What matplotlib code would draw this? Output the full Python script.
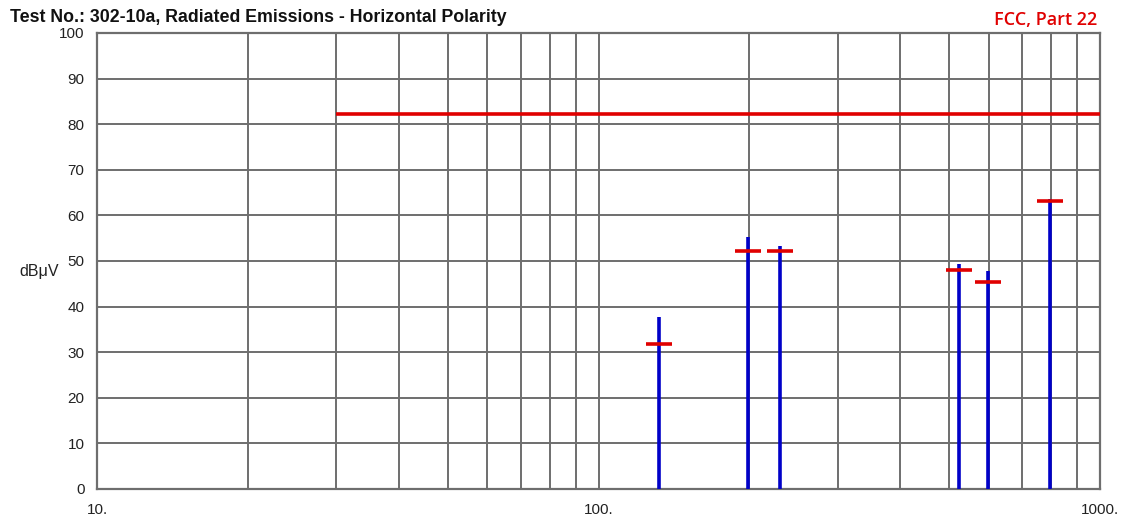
import matplotlib
matplotlib.use("Agg")
import matplotlib.pyplot as plt
from matplotlib.ticker import FixedLocator, NullFormatter

plt.rcParams['font.family'] = ['Liberation Sans', 'DejaVu Sans']

# Emission measurements
freq_mhz = [131.8, 199.0, 230.1, 523.0, 597.0, 795.0]
peak_dbuv = [37.8, 55.2, 53.2, 49.3, 47.8, 63.6]
qp_dbuv = [31.8, 52.1, 52.1, 48.0, 45.5, 63.1]

# FCC Part 22 limit
limit_freq = [30.0, 1000.0]
limit_dbuv = [82.2, 82.2]

y_ticks = [0, 10, 20, 30, 40, 50, 60, 70, 80, 90, 100]
x_major = [10, 100, 1000]
x_major_labels = ["10.", "100.", "1000."]
x_minor = [20, 30, 40, 50, 60, 70, 80, 90, 200, 300, 400, 500, 600, 700, 800, 900]

grid_c = "#6e6e6e"
txt_c = "#222222"
fig = plt.figure(figsize=(11.22, 5.17), dpi=100)
ax = fig.add_axes([0.0865, 0.0542, 0.8939, 0.882])
ax.set_xscale("log")
ax.set_xlim(10, 1000)
ax.set_ylim(0, 100)

ax.xaxis.set_major_locator(FixedLocator(x_major))
ax.xaxis.set_minor_locator(FixedLocator(x_minor))
ax.xaxis.set_minor_formatter(NullFormatter())
ax.set_xticklabels(x_major_labels)
ax.set_yticks(y_ticks)
ax.grid(True, which="both", axis="x", color=grid_c, lw=1.4)
ax.grid(True, which="major", axis="y", color=grid_c, lw=1.4)
ax.set_axisbelow(True)
for s in ax.spines.values():
    s.set_color(grid_c)
    s.set_linewidth(1.6)
ax.tick_params(which="both", length=0, labelsize=11, colors=txt_c)
ax.tick_params(axis="x", pad=10)
ax.tick_params(axis="y", pad=9)

ax.plot(limit_freq, limit_dbuv, color="#e00000", lw=2.6, solid_capstyle="butt", zorder=3)
ax.vlines(freq_mhz, 0, peak_dbuv, color="#0000c8", lw=2.6, zorder=4)
ax.plot(freq_mhz, qp_dbuv, ls="none", marker="_", markersize=19, markeredgewidth=2.6,
        color="#e00000", zorder=5)

ax.set_ylabel("dBμV", rotation=0, fontsize=11.5, color=txt_c, va="center", ha="center")
ax.yaxis.set_label_coords(-0.058, 0.478)

fig.text(0.009, 0.983, "Test No.: 302-10a, Radiated Emissions - Horizontal Polarity",
         fontsize=12.8, fontweight="bold", va="top", ha="left", color="#111111")
fig.text(0.978, 0.951, "FCC, Part 22", fontsize=13, fontweight="semibold", color="#e00000",
         va="baseline", ha="right", family=["Open Sans", "DejaVu Sans"])

fig.savefig("out.png", dpi=100)
